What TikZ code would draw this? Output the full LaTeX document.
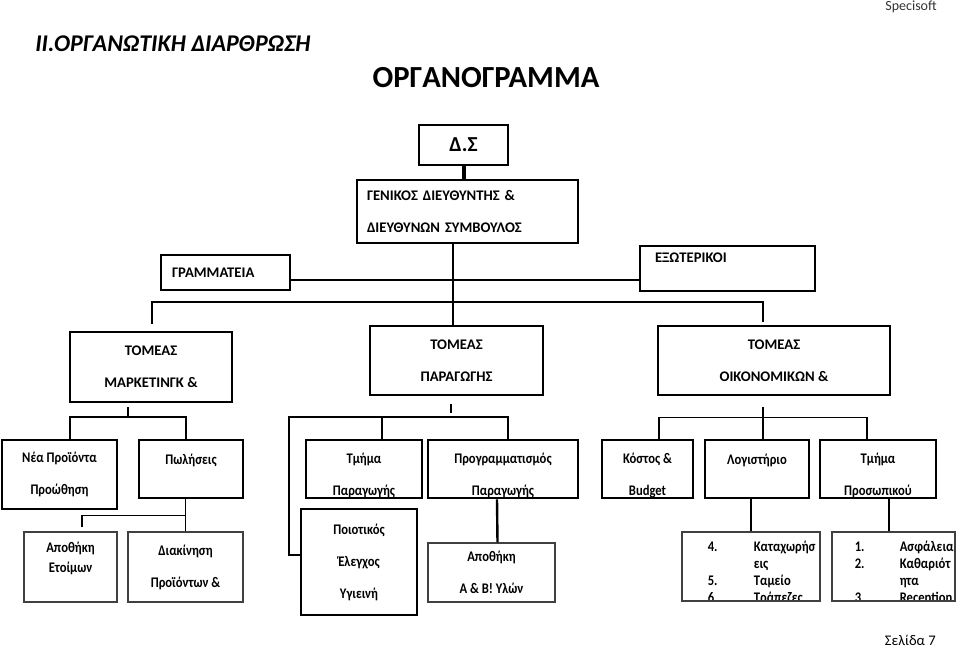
\documentclass[tikz,border=0pt]{standalone}
\usepackage{fontspec}
\setmainfont{Carlito}
\newfontfamily\boxfam[FakeStretch=0.86]{Carlito}
\usetikzlibrary{positioning}
\newcommand{\orgfont}{\fontsize{11}{13}\selectfont\bfseries}
\newcommand{\lowfont}{\fontsize{11}{13}\selectfont\boxfam\bfseries}
\newcommand{\listfont}{\fontsize{11}{12.8}\selectfont\boxfam\bfseries}

\begin{document}
\begin{tikzpicture}[x=0.75pt, y=-0.75pt,
   box/.style={draw, line width=2.2pt, inner sep=0pt, align=center, font=\orgfont},
   thinbox/.style={draw=black!75, line width=1pt, inner sep=0pt, align=center, font=\lowfont},
   row3/.style={box, minimum height=43.5pt},
   cut/.style={path picture={\node[inner sep=0pt, align=center, font=\lowfont] at ([shift={(0,6)}]path picture bounding box.center) {#1};}},
   listcut/.style={path picture={\node[anchor=base west, inner sep=0pt, font=\listfont] at ([shift={(10,19.5)}]path picture bounding box.north west) {#1};}},
   link/.style={line width=1.1pt},
   midlink/.style={line width=1.8pt},
   boldlink/.style={line width=3pt}]

\useasboundingbox (0,0) rectangle (960,650);

%% headings
   \node[anchor=east, inner sep=0pt, text=black!80, font=\fontsize{10.5}{12}\selectfont] at (937,7) (brand) {Specisoft};
   \node[anchor=west, inner sep=0pt, font=\fontsize{18}{21}\selectfont\bfseries\itshape] at (35,44) (sect) {II.ΟΡΓΑΝΩΤΙΚΗ ΔΙΑΡΘΡΩΣΗ};
   \node[inner sep=0pt, font=\fontsize{23}{27}\selectfont\bfseries] at (486,78) (title) {ΟΡΓΑΝΟΓΡΑΜΜΑ};
   \node[anchor=east, inner sep=0pt, font=\fontsize{11}{13}\selectfont] at (936,640) (page) {Σελίδα 7};

%% board and management
      \node[box, minimum width=66.75pt, minimum height=30pt, font=\fontsize{16}{19}\selectfont\bfseries] at (463.5,145) (ds) {Δ.Σ};
      \node[box, minimum width=165.75pt, minimum height=47.25pt, text width=150.75pt, align=left] at (467.5,211.5) (gm) {ΓΕΝΙΚΟΣ ΔΙΕΥΘΥΝΤΗΣ \&\\[11pt]ΔΙΕΥΘΥΝΩΝ ΣΥΜΒΟΥΛΟΣ};
      \node[box, minimum width=96.75pt, minimum height=26.25pt, text width=80pt, align=left] at (225.5,272.5) (gram) {ΓΡΑΜΜΑΤΕΙΑ};
      \node[box, line width=1.8pt, minimum width=131.25pt, minimum height=33.75pt, text width=108.75pt, align=left] at (727.5,268.5) (ext) {ΕΞΩΤΕΡΙΚΟΙ\\[3pt]\mbox{}};

%% sectors
         \node[box, minimum width=121.5pt, minimum height=52.5pt] at (151,367) (mkt) {ΤΟΜΕΑΣ\\[11pt]ΜΑΡΚΕΤΙΝΓΚ \&};
         \node[box, minimum width=129.75pt, minimum height=51.75pt] at (456.5,360.5) (prod) {ΤΟΜΕΑΣ\\[11pt]ΠΑΡΑΓΩΓΗΣ};
         \node[box, minimum width=174pt, minimum height=51.75pt] at (774,360.5) (fin) {ΤΟΜΕΑΣ\\[11pt]ΟΙΚΟΝΟΜΙΚΩΝ \&};

%% departments
   \node[box, font=\lowfont, minimum width=86.25pt, minimum height=51.75pt] at (59.5,474.5) (new) {Νέα Προϊόντα\\[11pt]Προώθηση};
   \node[row3, minimum width=78pt, cut={Πωλήσεις\\[11pt]\mbox{}}] at (191,469) (sale) {};
   \node[row3, minimum width=87pt, cut={Τμήμα\\[11pt]Παραγωγής}] at (364,469) (dept) {};
   \node[row3, minimum width=112.5pt, cut={Προγραμματισμός\\[11pt]Παραγωγής}] at (503,469) (plan) {};
   \node[row3, minimum width=68.25pt, cut={Κόστος \&\\[11pt]Budget}] at (647.5,469) (cost) {};
   \node[row3, minimum width=78pt, cut={Λογιστήριο\\[11pt]\mbox{}}] at (757,469) (acc) {};
   \node[row3, minimum width=87pt, cut={Τμήμα\\[11pt]Προσωπικού}] at (878,469) (hr) {};

%% units
      \node[thinbox, minimum width=69.75pt, minimum height=52.5pt] at (70.5,567) (store) {Αποθήκη\\[1.5pt]Ετοίμων\\[1.5pt]\mbox{}};
      \node[thinbox, minimum width=86.25pt, minimum height=52.5pt] at (185.5,567) (dist) {Διακίνηση\\[11pt]Προϊόντων \&};
      \node[box, font=\lowfont, line width=1.8pt, minimum width=87pt, minimum height=79.5pt] at (359,562) (qc) {Ποιοτικός\\[11pt]Έλεγχος\\[11pt]Υγιεινή};
      \node[thinbox, minimum width=95.25pt, minimum height=44.25pt] at (491.5,572.5) (raw) {Αποθήκη\\[11pt]Α \& Β! Υλών};
      \node[thinbox, minimum width=103.5pt, minimum height=51.75pt,
            listcut={\begin{tabular}[t]{@{}p{34.5pt}@{}l@{}}4. & Καταχωρήσ\\ & εις\\ 5. & Ταμείο\\ 6. & Τράπεζες\end{tabular}}] at (751,566.5) (acclist) {};
      \node[thinbox, minimum width=92.25pt, minimum height=51.75pt,
            listcut={\begin{tabular}[t]{@{}p{33.75pt}@{}l@{}}1. & Ασφάλεια\\ 2. & Καθαριότ\\ & ητα\\ 3. & Reception\end{tabular}}] at (893.5,566.5) (hrlist) {};

%% connectors
\coordinate (hub) at (453,302);
\coordinate (desk) at (453,280);
\coordinate (mktbus) at (128,417);
\coordinate (prodbus) at (289,417);
\draw[boldlink] (ds.south) -- (ds.south |- gm.north);
\draw[link] (gm.south -| hub) -- (prod.north -| hub);
\draw[link] (gram.east |- desk) -- (ext.west |- desk);
\draw[link] ([shift={(1,-7)}]mkt.north) |- (hub) -| ([shift={(-11,-3)}]fin.north);
%
\draw[link] ([shift={(-23,4)}]mkt.south) -- (mktbus);
\draw[link] ([shift={(10.5,0)}]new.north) |- (mktbus) -| ([shift={(-5,0)}]sale.north);
\draw[link] (sale.south -| dist.north) -- (dist.north);
\draw[link] ([shift={(11.5,-4)}]store.north) |- ([shift={(0,-16)}]dist.north);
%
\draw[midlink] ([shift={(-5.5,8)}]prod.south) -- ([shift={(-5.5,17)}]prod.south);
\draw[link] ([shift={(0,-7)}]qc.west) -| (prodbus) -| ([shift={(5,0)}]plan.north);
\draw[link] ([shift={(18,0)}]dept.north) -- ([shift={(18,-23)}]dept.north);
\draw[midlink] ([shift={(6,0)}]raw.north) -- ([shift={(-6,0)}]plan.south);
%
\draw[link] ([shift={(-11,11)}]fin.south) -- ([shift={(6,0)}]acc.north);
\draw[link] ([shift={(11.5,0)}]cost.north) |- ([shift={(-11,21)}]fin.south) -| ([shift={(-11,0)}]hr.north);
\draw[midlink] (acc.south -| acclist.north) -- (acclist.north);
\draw[midlink] ([shift={(-4.5,0)}]hrlist.north) -- ([shift={(11,0)}]hr.south);

\end{tikzpicture}
\end{document}
